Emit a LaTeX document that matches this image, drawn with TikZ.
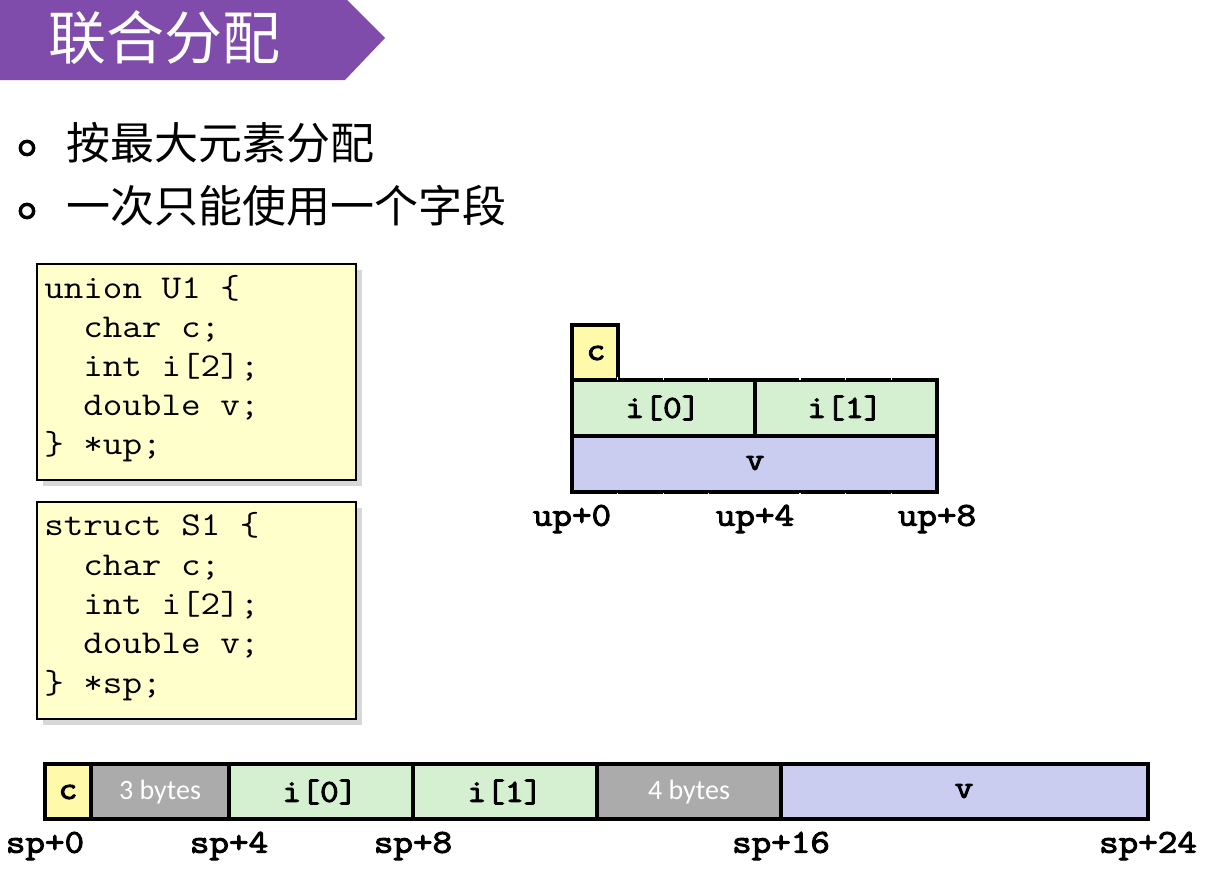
\documentclass[tikz,border=0pt]{standalone}
\usepackage{fontspec}
\newfontfamily\cjkfnt{Noto Sans CJK SC}
\newfontfamily\codefnt{Latin Modern Mono}[FakeStretch=1.14]
\newfontfamily\codebfnt{Latin Modern Mono}[FakeStretch=1.14,FakeBold=3]
\newfontfamily\carlitofnt{Carlito}
\definecolor{ttlpurple}{RGB}{127,76,171}
\definecolor{codefill}{RGB}{255,255,204}
\definecolor{cfill}{RGB}{255,250,170}
\definecolor{ifill}{RGB}{213,240,208}
\definecolor{vfill}{RGB}{203,205,240}
\definecolor{padgray}{RGB}{171,171,171}
\definecolor{shadowgray}{RGB}{215,215,215}
\begin{document}
\begin{tikzpicture}[x=0.75pt,y=-0.75pt,
  cellbox/.style={draw=black,line width=2.4pt},
  codebox/.style={draw=black,line width=1.3pt,fill=codefill},
  codeshadow/.style={fill=shadowgray,draw=none},
  codeline/.style={anchor=base west,inner sep=0pt,font=\codefnt\fontsize{25pt}{29pt}\selectfont},
  lbl/.style={inner sep=0pt,font=\codebfnt\fontsize{24pt}{27pt}\selectfont},
  addr/.style={inner sep=0pt,font=\codebfnt\fontsize{25pt}{28pt}\selectfont},
  padlbl/.style={inner sep=0pt,text=white,font=\carlitofnt\fontsize{21pt}{25pt}\selectfont},
  bullet/.style={draw=black,line width=2.6pt,circle,minimum size=10pt,inner sep=0pt},
  btext/.style={anchor=west,inner sep=0pt,font=\cjkfnt\fontsize{33pt}{38pt}\selectfont},
  notch/.style={draw=white,line width=0.9pt}]
\useasboundingbox (0,0) rectangle (1214,871);
\fill[white] (0,0) rectangle (1214,871);
% title banner
\fill[ttlpurple] (0,0) -- (347,0) -- (385,38) -- (345,80) -- (0,80) -- cycle;
\node[anchor=west,inner sep=0pt,text=white,font=\cjkfnt\fontsize{43.5pt}{48pt}\selectfont] (title) at (48,38) {联合分配};
% bullets
\node[bullet] (b1) at (27,148) {};
\node[btext] (t1) at (66,143) {按最大元素分配};
\node[bullet] (b2) at (27,211) {};
\node[btext] (t2) at (66,206) {一次只能使用一个字段};
% code box 1
\fill[codeshadow] (43,270) rectangle (362,486);
\filldraw[codebox] (37,264) rectangle (356,480);
\node[codeline] (u1) at (44,298) {union U1 \{};
\node[codeline] (u2) at (83,337) {char c;};
\node[codeline] (u3) at (83,376) {int i[2];};
\node[codeline] (u4) at (83,415) {double v;};
\node[codeline] (u5) at (44,454) {\} *up;};
% code box 2
\fill[codeshadow] (43,508) rectangle (362,725);
\filldraw[codebox] (37,502) rectangle (356,719);
\node[codeline] (s1) at (44,535) {struct S1 \{};
\node[codeline] (s2) at (83,575) {char c;};
\node[codeline] (s3) at (83,614) {int i[2];};
\node[codeline] (s4) at (83,653) {double v;};
\node[codeline] (s5) at (44,693) {\} *sp;};
% union layout
\filldraw[cellbox,fill=cfill] (572,325) rectangle (618,380);
\filldraw[cellbox,fill=ifill] (572,380) rectangle (755,436);
\filldraw[cellbox,fill=ifill] (755,380) rectangle (937,436);
\filldraw[cellbox,fill=vfill] (572,436) rectangle (937,492);
\foreach \k in {1,2,3,5,6,7} {
  \draw[notch] ({572+45.6*\k},376.5) -- ({572+45.6*\k},379.5);
  \draw[notch] ({572+45.6*\k},492.5) -- ({572+45.6*\k},495.5);
}
\node[lbl] (uc) at (596,353) {c};
\node[lbl] (ui0) at (663,408) {i[0]};
\node[lbl] (ui1) at (845,408) {i[1]};
\node[lbl] (uv) at (755,463) {v};
\node[addr] (up0) at (572,519) {up+0};
\node[addr] (up4) at (755,519) {up+4};
\node[addr] (up8) at (937,519) {up+8};
% struct layout
\filldraw[cellbox,fill=cfill] (45,764) rectangle (91,819);
\filldraw[cellbox,fill=padgray] (91,764) rectangle (229,819);
\filldraw[cellbox,fill=ifill] (229,764) rectangle (413,819);
\filldraw[cellbox,fill=ifill] (413,764) rectangle (597,819);
\filldraw[cellbox,fill=padgray] (597,764) rectangle (781,819);
\filldraw[cellbox,fill=vfill] (781,764) rectangle (1148,819);
\node[lbl] (sc) at (68,792) {c};
\node[padlbl] (p3) at (160,792) {3 bytes};
\node[lbl] (si0) at (320,792) {i[0]};
\node[lbl] (si1) at (505,792) {i[1]};
\node[padlbl] (p4) at (689,792) {4 bytes};
\node[lbl] (sv) at (964,791) {v};
\node[addr] (sp0) at (45,846) {sp+0};
\node[addr] (sp4) at (229,846) {sp+4};
\node[addr] (sp8) at (413,846) {sp+8};
\node[addr] (sp16) at (781,846) {sp+16};
\node[addr] (sp24) at (1148,846) {sp+24};
\end{tikzpicture}
\end{document}
